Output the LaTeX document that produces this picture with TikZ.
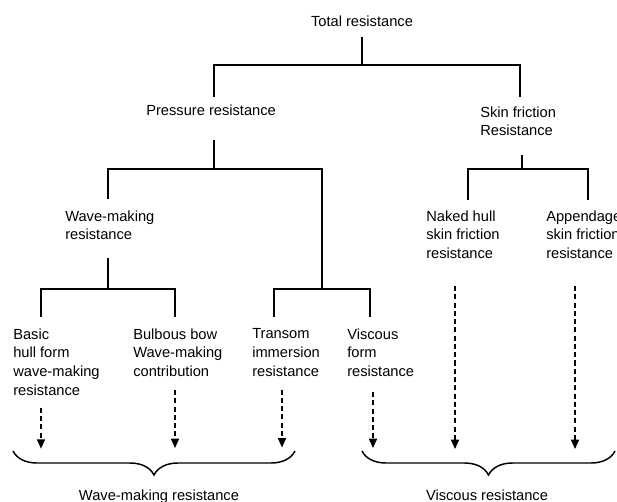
\documentclass[tikz,border=0pt]{standalone}
\usepackage{fontspec}
\setmainfont{Liberation Sans}
\usetikzlibrary{arrows.meta,decorations.pathreplacing}
\begin{document}
\begin{tikzpicture}[x=0.75pt,y=-0.75pt, % pixel grid, y downwards
	link/.style={line width=1.4pt}, % tree lines
	dasharrow/.style={line width=1.2pt,dash pattern=on 3.8pt off 2.4pt,
		-{Triangle[length=7pt,width=6pt]}},
	curly/.style={line width=1.1pt,decorate,decoration={brace,amplitude=18pt}},
	every node/.style={font=\fontsize{11}{14}\selectfont,inner sep=0pt,align=left}]
	\useasboundingbox (0,0) rectangle (617,502);
	% labels
	\node[anchor=base] (total) at (362,27) {Total resistance};
	\node[anchor=base west] (pressure) at (146,116) {Pressure resistance};
	\node[anchor=north west] (skin) at (480,106.3) {Skin friction\\Resistance};
	\node[anchor=north west] (wave) at (65,210.4) {Wave-making\\resistance};
	\node[anchor=north west] (naked) at (426,210.4) {Naked hull\\skin friction\\resistance};
	\node[anchor=north west] (appendage) at (546,210.4) {Appendage\\skin friction\\resistance};
	\node[anchor=north west] (basic) at (13,328.4) {Basic\\hull form\\wave-making\\resistance};
	\node[anchor=north west] (bulbous) at (133,328.4) {Bulbous bow\\Wave-making\\contribution};
	\node[anchor=north west] (transom) at (252,328.4) {Transom\\immersion\\resistance};
	\node[anchor=north west] (viscous) at (347,328.4) {Viscous\\form\\resistance};
	\node[anchor=base] (wmsum) at (159,500) {Wave-making resistance};
	\node[anchor=base] (vsum) at (487,500) {Viscous resistance};
	% line ends next to the labels
	\coordinate (pressure-top) at (214,97);
	\coordinate (pressure-bot) at (214,140);
	\coordinate (skin-top) at (520,97);
	\coordinate (skin-bot) at (522,155);
	\coordinate (wave-top) at (108,199);
	\coordinate (wave-bot) at (108,258);
	\coordinate (naked-top) at (468,200);
	\coordinate (appendage-top) at (588,200);
	\coordinate (basic-top) at (41,317);
	\coordinate (bulbous-top) at (175,317);
	\coordinate (transom-top) at (274,317);
	\coordinate (viscous-top) at (370,317);
	\coordinate (tv-fork) at (322,289);
	% tree
	\draw[link] (total.south) ++(0,10) -- ++(0,28) -| (pressure-top);
	\draw[link] (total.south) ++(0,38) -| (skin-top);
	\draw[link] (pressure-bot) -- ++(0,29) -| (wave-top);
	\draw[link] (pressure-bot) ++(0,29) -| (tv-fork);
	\draw[link] (transom-top) |- (tv-fork) -| (viscous-top);
	\draw[link] (wave-bot) -- ++(0,31) -| (basic-top);
	\draw[link] (wave-bot) ++(0,31) -| (bulbous-top);
	\draw[link] (skin-bot) -- ++(0,14) -| (naked-top);
	\draw[link] (skin-bot) ++(0,14) -| (appendage-top);
	% dashed arrows down to the braces
	\draw[dasharrow] (basic.south west) ++(28,12) -- ++(0,41);
	\draw[dasharrow] (bulbous.south west) ++(42,13) -- ++(0,58);
	\draw[dasharrow] (transom.south west) ++(30,13) -- ++(0,58);
	\draw[dasharrow] (viscous.south west) ++(26,15) -- ++(0,56);
	\draw[dasharrow] (naked.south west) ++(29,27) -- ++(0,163);
	\draw[dasharrow] (appendage.south west) ++(29,27) -- ++(0,163);
	% braces
	\draw[curly] (295,451) -- (13,451);
	\draw[curly] (615,451) -- (362,451);
\end{tikzpicture}
\end{document}
